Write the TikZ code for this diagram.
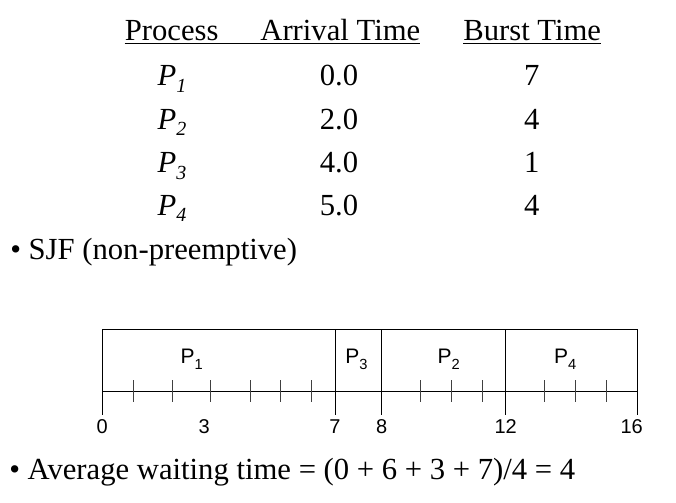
\documentclass[tikz,border=0pt]{standalone}
\usepackage{fontspec}
\setmainfont{Liberation Serif}
\newfontfamily\ganttfont{Liberation Sans}
\usetikzlibrary{positioning}
\newcommand{\tsub}[1]{\raisebox{-5pt}{\fontsize{15}{15}\selectfont #1}}
\newcommand{\gsub}[1]{\raisebox{-5pt}{\fontsize{11}{11}\selectfont #1}}
\tikzset{
  cell/.style={inner sep=0pt, anchor=base, font=\fontsize{23}{27}\selectfont},
  bline/.style={inner sep=0pt, anchor=base west, font=\fontsize{23}{27}\selectfont},
  job/.style={inner sep=0pt, anchor=base, font=\ganttfont\fontsize{15.75}{18}\selectfont},
  tlab/.style={inner sep=0pt, anchor=base, font=\ganttfont\fontsize{15}{18}\selectfont},
  frame/.style={line width=0.7pt, draw=black},
  tick/.style={line width=0.7pt, draw=black!75},
  uline/.style={line width=0.8pt, draw=black},
}

\begin{document}
\begin{tikzpicture}[x=0.75pt, y=-0.75pt]
  \useasboundingbox (0,0) rectangle (676,503);
  \node[cell] (hproc) at (171.7,40.5) {Process};
  \node[cell] (harr) at (340.3,40.5) {Arrival Time};
  \node[cell] (hburst) at (532.2,40.5) {Burst Time};
  \draw[uline] ([yshift=-2pt]hproc.base west) -- ([yshift=-2pt]harr.base east);
  \draw[uline] ([yshift=-2pt]hburst.base west) -- ([yshift=-2pt]hburst.base east);
  \foreach \i/\va/\vb/\y in {1/0.0/7/86, 2/2.0/4/129.3, 3/4.0/1/172.7, 4/5.0/4/215} {
    \node[cell] (p\i) at (172,\y) {\textit{P\tsub{\i}}};
    \node[cell] (a\i) at (339,\y) {\va};
    \node[cell] (b\i) at (531.7,\y) {\vb};
  }
  \node[bline] (sjf) at (10,260) {\textbullet\ SJF (non-preemptive)};

  % gantt chart
  \foreach \n/\x in {0/102.3, 7/335, 8/381.7, 12/505.7, 16/637} {
    \coordinate (top\n) at (\x,329.3);
    \coordinate (bot\n) at (\x,415);
  }
  \coordinate (ax0) at (102.3,391);
  \coordinate (ax16) at (637,391);
  \draw[frame] (top0) -- (top16);
  \draw[frame] (ax0) -- (ax16);
  \foreach \n in {0,7,8,12,16} \draw[frame] (top\n) -- (bot\n);
  \foreach \x in {133.3,172,210.7,250,280.3,311.7,420,451,482.3,544,575,606}
    \draw[tick] (\x,380) -- (\x,402.3);
  \node[job] (j1) at (191.7,363.3) {P\gsub{1}};
  \node[job] (j3) at (356.5,363.3) {P\gsub{3}};
  \node[job] (j2) at (448.7,363.3) {P\gsub{2}};
  \node[job] (j4) at (565.3,363.3) {P\gsub{4}};
  \foreach \n/\x in {0/102.3, 3/204.3, 7/335, 8/381.7, 12/505.7, 16/631.7}
    \node[tlab] (l\n) at (\x,433.3) {\n};

  \node[bline] (avg) at (9,479.5) {\textbullet\ Average waiting time = (0 + 6 + 3 + 7)/4 = 4};
\end{tikzpicture}
\end{document}
